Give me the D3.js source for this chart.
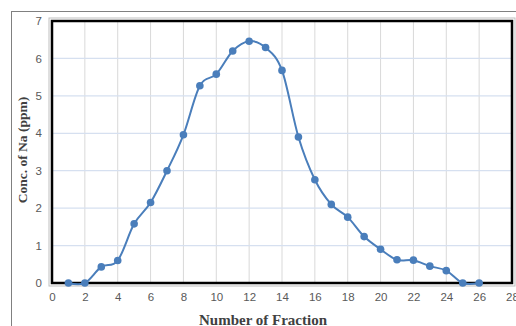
<!DOCTYPE html>
<html>
<head>
<meta charset="utf-8">
<script src="https://cdn.jsdelivr.net/npm/d3@7"></script>
<style>
  body { margin: 0; background: #fff; }
  svg { display: block; }
</style>
</head>
<body>
<div id="chart"></div>
<script>
// fraction numbers and sodium concentration (ppm)
const fractions = [1, 2, 3, 4, 5, 6, 7, 8, 9, 10, 11, 12, 13, 14, 15, 16, 17, 18, 19, 20, 21, 22, 23, 24, 25, 26];
const concNa = [0, 0, 0.43, 0.6, 1.58, 2.15, 3.0, 3.96, 5.27, 5.58, 6.2, 6.46, 6.29, 5.68, 3.9, 2.76, 2.1, 1.76, 1.24, 0.9, 0.62, 0.61, 0.45, 0.33, 0, 0];
const xTicks = [0, 2, 4, 6, 8, 10, 12, 14, 16, 18, 20, 22, 24, 26, 28];
const yTicks = [0, 1, 2, 3, 4, 5, 6, 7];

const width = 516, height = 326;
const plot = {left: 52, top: 21, right: 512, bottom: 283};

const svg = d3.select("#chart").append("svg")
    .attr("width", width)
    .attr("height", height);

// outer chart frame
svg.append("rect")
    .attr("x", 11.5).attr("y", 11.5)
    .attr("width", width + 10).attr("height", height + 10)
    .attr("fill", "none")
    .attr("stroke", "#808080")
    .attr("stroke-width", 1);

const x = d3.scaleLinear().domain([0, 28]).range([plot.left, plot.right]);
const y = d3.scaleLinear().domain([0, 7]).range([plot.bottom, plot.top]);

// grid
svg.append("g")
    .selectAll("line")
    .data(xTicks.slice(1, -1))
    .enter().append("line")
    .attr("x1", d => x(d)).attr("x2", d => x(d))
    .attr("y1", plot.top).attr("y2", plot.bottom)
    .attr("stroke", "#d9d9d9")
    .attr("stroke-width", 1);

svg.append("g")
    .selectAll("line")
    .data(yTicks.slice(1, -1))
    .enter().append("line")
    .attr("x1", plot.left).attr("x2", plot.right)
    .attr("y1", d => y(d)).attr("y2", d => y(d))
    .attr("stroke", "#d6e0f0")
    .attr("stroke-width", 1.2);

// plot area border (black with a grey shadow)
svg.append("rect")
    .attr("x", plot.left - 3).attr("y", plot.top - 3)
    .attr("width", plot.right - plot.left + 6).attr("height", plot.bottom - plot.top + 6)
    .attr("fill", "none")
    .attr("stroke", "#bfbfbf")
    .attr("stroke-width", 1);
svg.append("rect")
    .attr("x", plot.left).attr("y", plot.top)
    .attr("width", plot.right - plot.left).attr("height", plot.bottom - plot.top)
    .attr("fill", "none")
    .attr("stroke", "#000")
    .attr("stroke-width", 2.5);

// axes (labels only)
const xAxis = svg.append("g")
    .attr("transform", `translate(0,${plot.bottom})`)
    .call(d3.axisBottom(x).tickValues(xTicks).tickSize(0).tickPadding(10));
const yAxis = svg.append("g")
    .attr("transform", `translate(${plot.left},0)`)
    .call(d3.axisLeft(y).tickValues(yTicks).tickFormat(d3.format("d")).tickSize(0).tickPadding(10));
[xAxis, yAxis].forEach(a => {
    a.select(".domain").remove();
    a.selectAll("text")
        .attr("fill", "#595959")
        .style("font-family", "'Liberation Sans', Arial, sans-serif")
        .style("font-size", "11.5px");
});

// series
const points = fractions.map((f, i) => [f, concNa[i]]);
const line = d3.line()
    .x(d => x(d[0]))
    .y(d => y(d[1]))
    .curve(d3.curveCardinal.tension(0));

svg.append("path")
    .datum(points)
    .attr("d", line)
    .attr("fill", "none")
    .attr("stroke", "#4a7ebb")
    .attr("stroke-width", 2);

svg.append("g")
    .selectAll("circle")
    .data(points)
    .enter().append("circle")
    .attr("cx", d => x(d[0]))
    .attr("cy", d => y(d[1]))
    .attr("r", 3.8)
    .attr("fill", "#4a7ebb");

// axis titles
svg.append("text")
    .attr("x", 263).attr("y", 325)
    .attr("text-anchor", "middle")
    .style("font-family", "'Liberation Serif', 'Times New Roman', serif")
    .style("font-weight", "bold")
    .style("font-size", "15px")
    .attr("fill", "#404040")
    .text("Number of Fraction");

svg.append("text")
    .attr("transform", "translate(27,150) rotate(-90)")
    .attr("text-anchor", "middle")
    .style("font-family", "'Liberation Serif', 'Times New Roman', serif")
    .style("font-weight", "bold")
    .style("font-size", "13.5px")
    .attr("fill", "#404040")
    .text("Conc. of Na (ppm)");
</script>
</body>
</html>
